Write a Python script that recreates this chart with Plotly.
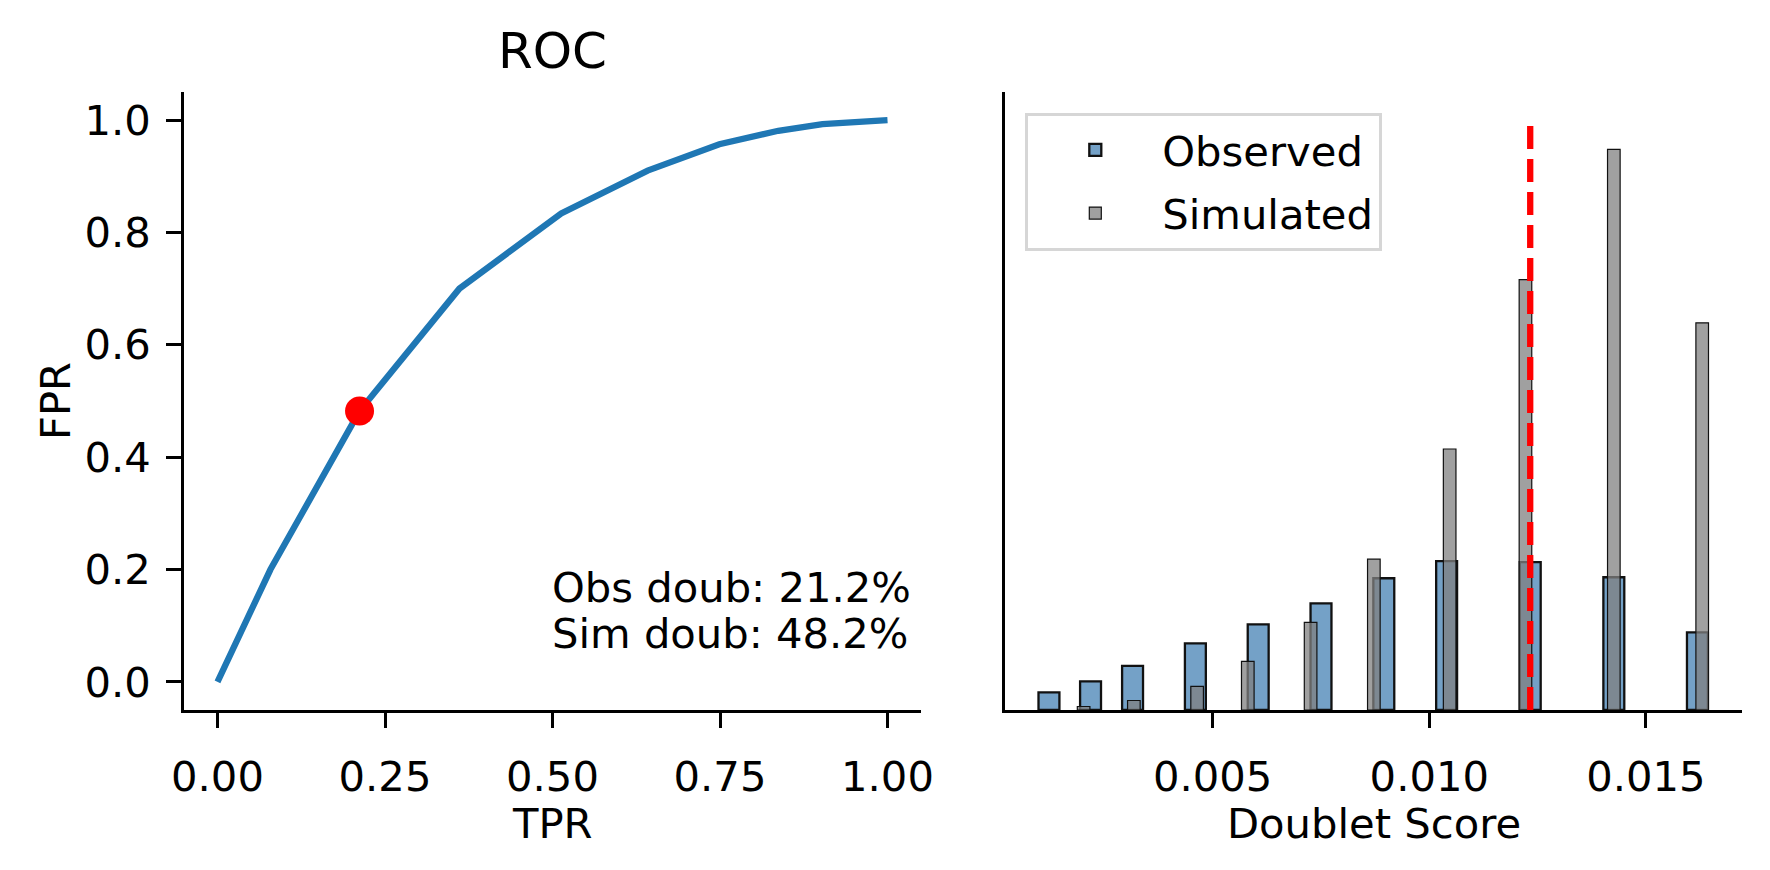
import plotly.graph_objects as go

# ---------------- data ----------------
# ROC curve (left panel)
roc_tpr = [0.0, 0.079, 0.212, 0.361, 0.513, 0.642, 0.749, 0.837, 0.903, 0.957, 1.0]
roc_fpr = [0.0, 0.200, 0.482, 0.700, 0.834, 0.910, 0.957, 0.981, 0.993, 0.998, 1.0]
obs_doublet_rate = 0.212
sim_doublet_rate = 0.482

# Doublet score histograms (right panel): bin centres, bin widths, counts
obs_bin_centers = [0.00122, 0.00218, 0.00315, 0.00460, 0.00605, 0.00750,
                   0.00895, 0.01040, 0.01233, 0.01426, 0.01619]
obs_bin_width = 0.000483
obs_counts = [35, 57, 88, 133, 171, 213, 263, 297, 295, 265, 155]

sim_bin_centers = [0.00202, 0.00318, 0.00464, 0.00581, 0.00726, 0.00872,
                   0.01047, 0.01222, 0.01426, 0.01630]
sim_bin_width = 0.000291
sim_counts = [7, 19, 47, 97, 175, 301, 521, 859, 1119, 773]

threshold = 0.01233

x_ticks_left = [0.0, 0.25, 0.5, 0.75, 1.0]
x_ticklabels_left = ["0.00", "0.25", "0.50", "0.75", "1.00"]
y_ticks_left = [0.0, 0.2, 0.4, 0.6, 0.8, 1.0]
y_ticklabels_left = ["0.0", "0.2", "0.4", "0.6", "0.8", "1.0"]
x_ticks_right = [0.005, 0.010, 0.015]
x_ticklabels_right = ["0.005", "0.010", "0.015"]

# ---------------- styling ----------------
FONT = "DejaVu Sans"
FS = 41.7
BODY = 8                      # default browser body margin around the plot div
W, H = 1770 - 2 * BODY, 870 - 2 * BODY
ML, MT = 184 - BODY, 92 - BODY
PLOT_W, PLOT_H = 1558, 618
MR = W - ML - PLOT_W
MB = H - MT - PLOT_H
left_end = 737 / PLOT_W
right_start = 1 - 737 / PLOT_W
SPINE = 3.3
TICKLEN = 14.6


def py2paper(py):
    """screen pixel row -> paper y"""
    return (710 - py) / PLOT_H


def px2paper(px):
    return (px - 184) / PLOT_W


fig = go.Figure()

fig.add_trace(go.Scatter(
    x=roc_tpr, y=roc_fpr, mode="lines",
    line=dict(color="#1f77b4", width=6.3),
    xaxis="x", yaxis="y", showlegend=False, hoverinfo="skip"))
fig.add_trace(go.Scatter(
    x=[obs_doublet_rate], y=[sim_doublet_rate], mode="markers",
    marker=dict(color="red", size=29, line=dict(width=0)),
    xaxis="x", yaxis="y", showlegend=False))

fig.add_trace(go.Bar(
    x=obs_bin_centers, y=obs_counts, width=obs_bin_width,
    name="Observed", legendgroup="obs",
    marker=dict(color="rgba(70,130,180,0.75)", line=dict(color="#111111", width=2.3)),
    xaxis="x2", yaxis="y2"))
fig.add_trace(go.Bar(
    x=sim_bin_centers, y=sim_counts, width=sim_bin_width,
    name="Simulated", legendgroup="sim",
    marker=dict(color="rgba(128,128,128,0.75)", line=dict(color="#111111", width=1.2)),
    xaxis="x2", yaxis="y2"))

line_top = max(sim_counts) * 1.05
fig.add_trace(go.Scatter(
    x=[threshold, threshold], y=[0, line_top], mode="lines",
    line=dict(color="red", width=6.3, dash="23px,10px"),
    xaxis="x2", yaxis="y2", showlegend=False, hoverinfo="skip"))

# x range of histogram: data extent plus 5% margins
lo = min(obs_bin_centers[0] - obs_bin_width / 2, sim_bin_centers[0] - sim_bin_width / 2)
hi = max(obs_bin_centers[-1] + obs_bin_width / 2, sim_bin_centers[-1] + sim_bin_width / 2)
pad = (hi - lo) * 0.05

axis_common = dict(
    showgrid=False, zeroline=False, showline=True, linecolor="black",
    linewidth=SPINE, ticks="outside", ticklen=TICKLEN, tickwidth=SPINE,
    tickcolor="black", tickfont=dict(family=FONT, size=FS, color="black"),
    mirror=False, automargin=False)

txt = dict(family=FONT, size=FS, color="black")

fig.update_layout(
    width=W, height=H,
    margin=dict(l=ML, r=MR, t=MT, b=MB, autoexpand=False),
    paper_bgcolor="white", plot_bgcolor="white",
    font=txt,
    barmode="overlay",
    xaxis=dict(domain=[0, left_end], range=[-0.05, 1.05],
               tickvals=x_ticks_left, ticktext=x_ticklabels_left,
               ticklabelstandoff=13, anchor="y", **axis_common),
    yaxis=dict(domain=[0, 1], range=[-0.05, 1.05],
               tickvals=y_ticks_left, ticktext=y_ticklabels_left,
               ticklabelstandoff=7,
               title=dict(text="FPR", font=txt, standoff=2),
               anchor="x", **axis_common),
    xaxis2=dict(domain=[right_start, 1], range=[lo - pad, hi + pad],
                tickvals=x_ticks_right, ticktext=x_ticklabels_right,
                ticklabelstandoff=13, anchor="y2", **axis_common),
    yaxis2=dict(domain=[0, 1], range=[0, line_top * 1.05], anchor="x2",
                showgrid=False, zeroline=False, showline=True, linecolor="black",
                linewidth=SPINE, ticks="", showticklabels=False, automargin=False),
    legend=dict(x=px2paper(1025), y=py2paper(113),
                xanchor="left", yanchor="top",
                bgcolor="white", bordercolor="#d6d6d6", borderwidth=3.3,
                font=txt, itemwidth=124, traceorder="grouped", tracegroupgap=6),
    annotations=[
        dict(text="ROC", xref="paper", yref="paper", x=left_end / 2,
             y=py2paper(51), xanchor="center", yanchor="middle",
             showarrow=False, font=dict(family=FONT, size=50, color="black")),
        dict(text="TPR", xref="paper", yref="paper", x=left_end / 2,
             y=py2paper(823), xanchor="center", yanchor="middle",
             showarrow=False, font=txt),
        dict(text="Doublet Score", xref="paper", yref="paper",
             x=(right_start + 1) / 2, y=py2paper(823),
             xanchor="center", yanchor="middle", showarrow=False, font=txt),
        dict(text=f"Obs doub: {obs_doublet_rate*100:.1f}%", xref="x", yref="y",
             x=0.5, y=0.168, xanchor="left", yanchor="middle", showarrow=False,
             xshift=-3, font=txt),
        dict(text=f"Sim doub: {sim_doublet_rate*100:.1f}%", xref="x", yref="y",
             x=0.5, y=0.087, xanchor="left", yanchor="middle", showarrow=False,
             xshift=-3, font=txt),
    ],
)

fig.write_html("out.html")
